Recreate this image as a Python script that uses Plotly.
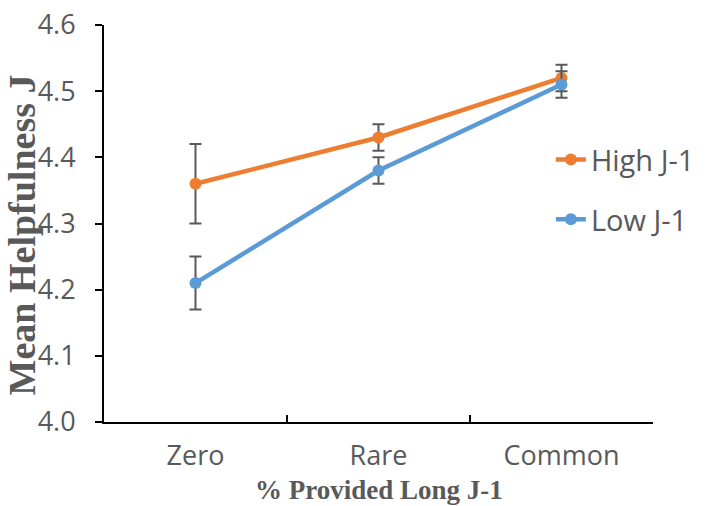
import plotly.graph_objects as go

categories = ["Zero", "Rare", "Common"]
high_vals = [4.36, 4.43, 4.52]
high_err = [0.06, 0.02, 0.02]
low_vals = [4.21, 4.38, 4.51]
low_err = [0.04, 0.02, 0.02]
y_ticks = [4.0, 4.1, 4.2, 4.3, 4.4, 4.5, 4.6]
y_ticktext = ["4.0", "4.1", "4.2", "4.3", "4.4", "4.5", "4.6"]
x_title = "% Provided Long J-1"
y_title = "Mean Helpfulness J"

ORANGE = "#ED7D31"
BLUE = "#5B9BD5"
GRAY = "#595959"
SANS = "Open Sans, Noto Sans, sans-serif"
SERIF = "Liberation Serif, Times New Roman, serif"
TICKFONT = dict(family=SANS, size=27, color=GRAY)

fig = go.Figure()
fig.add_trace(go.Scatter(
    x=categories, y=high_vals, name="High J-1", mode="lines+markers",
    line=dict(color=ORANGE, width=4.5), marker=dict(color=ORANGE, size=12),
    error_y=dict(type="data", array=high_err, color=GRAY, thickness=2, width=6),
    legendgroup="a",
))
fig.add_trace(go.Scatter(
    x=categories, y=low_vals, name="Low J-1", mode="lines+markers",
    line=dict(color=BLUE, width=4.5), marker=dict(color=BLUE, size=12),
    error_y=dict(type="data", array=low_err, color=GRAY, thickness=2, width=6),
    legendgroup="b",
))

fig.update_layout(
    width=715, height=506,
    margin=dict(l=104, r=62, t=25, b=84),
    paper_bgcolor="white", plot_bgcolor="white",
    showlegend=True,
    legend=dict(x=0.814, y=0.725, xanchor="left", yanchor="top",
                font=dict(family=SANS, size=29, color=GRAY),
                tracegroupgap=19, bgcolor="rgba(0,0,0,0)"),
    xaxis=dict(
        type="category", range=[-0.5, 2.5], automargin=False,
        showline=True, linecolor="black", linewidth=2,
        ticks="inside", tickson="boundaries", ticklen=7, tickcolor="black", tickwidth=2,
        tickfont=TICKFONT, showgrid=False, zeroline=False, ticklabelstandoff=9,
    ),
    yaxis=dict(
        range=[4.0, 4.6], tickvals=y_ticks, ticktext=y_ticktext, automargin=False,
        showline=True, linecolor="black", linewidth=2,
        ticks="outside", ticklen=7, tickcolor="black", tickwidth=2,
        tickfont=TICKFONT, showgrid=False, zeroline=False, ticklabelstandoff=14,
        ticklabeloverflow="allow",
    ),
    yaxis2=dict(
        range=[4.0, 4.6], tickvals=y_ticks, overlaying="y", side="left",
        showline=False, ticks="inside", ticklen=7, tickcolor="black", tickwidth=2,
        showticklabels=False, showgrid=False, zeroline=False, automargin=False,
    ),
    annotations=[
        dict(text="<b>" + x_title + "</b>", xref="paper", yref="paper",
             x=0.5, y=0, xanchor="center", yanchor="middle", yshift=-68,
             showarrow=False, font=dict(family=SERIF, size=27, color=GRAY)),
        dict(text="<b>" + y_title + "</b>", xref="paper", yref="paper",
             x=0, y=0.47, xanchor="center", yanchor="middle", xshift=-82,
             textangle=-90, showarrow=False, font=dict(family=SERIF, size=38, color=GRAY)),
    ],
)

fig.write_html("out.html", config={"displayModeBar": False},
               post_script="document.body.style.margin='0';")
